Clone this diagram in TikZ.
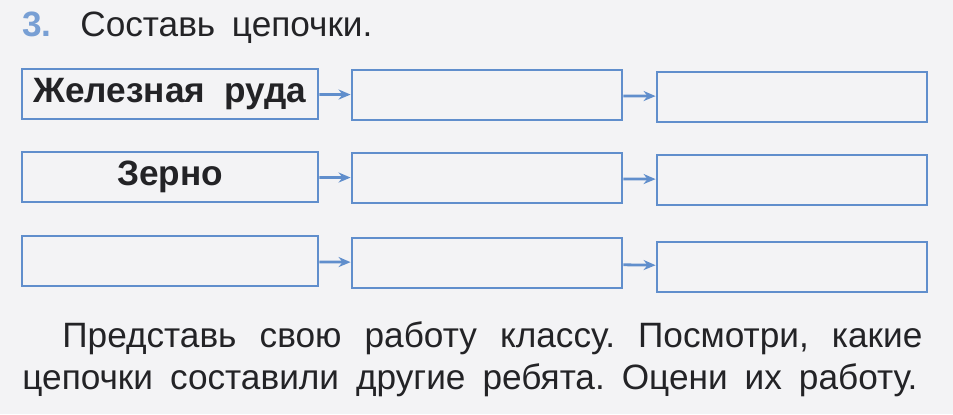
\documentclass[tikz,border=0pt]{standalone}
\usepackage{fontspec}
\setmainfont{Liberation Sans}
\usetikzlibrary{arrows.meta}
\definecolor{boxblue}{RGB}{96,142,204}
\definecolor{paper}{RGB}{243,243,245}
\definecolor{ink}{RGB}{35,35,38}
\frenchspacing
\begin{document}
\begin{tikzpicture}
  [x=0.5pt,y=-0.5pt,
   chain/.style={draw=boxblue,line width=1.4pt,minimum width=148pt,minimum height=25pt,inner sep=0pt,font=\fontsize{17.6}{19}\selectfont\bfseries,text=ink},
   link/.style={draw=boxblue,line width=1.4pt,-{Stealth[length=6pt,width=5pt]}},
   words/.style={inner sep=0pt,anchor=base west,text=ink,font=\fontsize{17.6}{19}\selectfont}]
  \fill[paper] (0,0) rectangle (953,414);

  \node[words,text=boxblue!85,font=\fontsize{17.6}{19}\selectfont\bfseries] (num) at (22,36) {3.};
  \node[words] (title) at (80,36) {\makebox[146pt][s]{Составь \ цепочки.}};

  \node[chain] (r1a) at (170,94)  {Железная \ руда};
  \node[chain,minimum width=135pt] (r1b) at (487,95)  {};
  \node[chain,minimum width=135pt] (r1c) at (792,97)  {};
  \node[chain] (r2a) at (170,177) {Зерно};
  \node[chain,minimum width=135pt] (r2b) at (487,178) {};
  \node[chain,minimum width=135pt] (r2c) at (792,180) {};
  \node[chain] (r3a) at (170,261) {};
  \node[chain,minimum width=135pt] (r3b) at (487,263) {};
  \node[chain,minimum width=135pt] (r3c) at (792,267) {};

  \foreach \from/\to in {r1a/r1b,r1b/r1c,r2a/r2b,r2b/r2c,r3a/r3b,r3b/r3c}
    \draw[link] (\from) -- (\to);

  \node[words] (say1) at (62,347) {\makebox[430pt][s]{Представь свою работу классу. Посмотри, какие}};
  \node[words] (say2) at (22,389) {\makebox[447.5pt][s]{цепочки составили другие ребята. Оцени их работу.}};
\end{tikzpicture}
\end{document}
